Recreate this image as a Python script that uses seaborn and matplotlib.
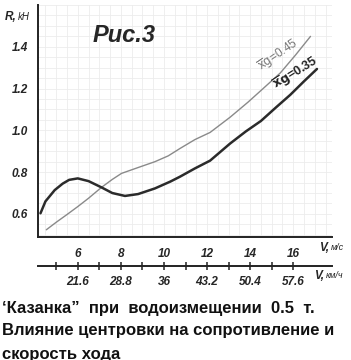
import numpy as np
import pandas as pd
import matplotlib
matplotlib.use("Agg")
import matplotlib.pyplot as plt
import seaborn as sns

# speed, m/s and resistance, kN
v_045 = [4.54, 5.0, 5.5, 6.0, 6.5, 7.1, 7.6, 8.03, 8.8, 9.58, 10.2, 10.74,
         11.44, 12.14, 13.07, 13.9, 14.6, 15.4, 16.1, 16.8]
r_045 = [0.524, 0.56, 0.597, 0.635, 0.675, 0.727, 0.765, 0.794, 0.822, 0.85,
         0.878, 0.913, 0.956, 0.99, 1.063, 1.135, 1.20, 1.275, 1.36, 1.45]

v_035 = [4.27, 4.5, 4.93, 5.3, 5.6, 6.0, 6.5, 7.1, 7.6, 8.19, 8.8, 9.58, 10.3,
         10.74, 11.44, 12.14, 13.07, 13.8, 14.5, 15.2, 15.86, 16.5, 17.1]
r_035 = [0.603, 0.66, 0.714, 0.745, 0.763, 0.770, 0.757, 0.727, 0.700, 0.686,
         0.695, 0.722, 0.755, 0.778, 0.818, 0.855, 0.937, 0.995, 1.045, 1.11,
         1.17, 1.235, 1.294]

y_ticks = [0.6, 0.8, 1.0, 1.2, 1.4]
y_minor = [0.7, 0.9, 1.1, 1.3, 1.5]
x_ticks = [6, 8, 10, 12, 14, 16]
x_minor = [5, 7, 9, 11, 13, 15]
kmh_ticks = [21.6, 28.8, 36, 43.2, 50.4, 57.6]
kmh_labels = ["21.6", "28.8", "36", "43.2", "50.4", "57.6"]
kmh_minor = [18.0, 25.2, 32.4, 39.6, 46.8, 54.0]

caption = ["\u2018Казанка\u201d  при  водоизмещении  0.5  т.",
           "Влияние центровки на сопротивление и",
           "скорость хода"]

df = pd.concat([
    pd.DataFrame({"v": v_045, "R": r_045, "xg": "0.45"}),
    pd.DataFrame({"v": v_035, "R": r_035, "xg": "0.35"}),
])

sns.set_style("white")
plt.rcParams["font.family"] = ["Liberation Sans", "DejaVu Sans"]

fig = plt.figure(figsize=(3.51, 3.6), dpi=100)
ax = fig.add_axes([0.108, 0.342, 0.838, 0.644])

# graph-paper background
for xx in np.arange(4, 18.01, 0.5):
    ax.axvline(xx, color="#ececec", lw=0.6, zorder=0)
for yy in np.arange(0.5, 1.61, 0.05):
    ax.axhline(yy, color="#ececec", lw=0.6, zorder=0)

sns.lineplot(data=df[df.xg == "0.45"], x="v", y="R", color="#8a8a8a", lw=1.0,
             estimator=None, sort=False, ax=ax, legend=False)
sns.lineplot(data=df[df.xg == "0.35"], x="v", y="R", color="#2b2b2b", lw=1.8,
             estimator=None, sort=False, ax=ax, legend=False)

ax.set_xlim(4.15, 17.8)
ax.set_ylim(0.49, 1.6)
ax.set_xlabel("")
ax.set_ylabel("")
for s in ["top", "right"]:
    ax.spines[s].set_visible(False)
for s in ["left", "bottom"]:
    ax.spines[s].set_linewidth(1.4)
    ax.spines[s].set_color("#222222")

tick_font = dict(fontsize=8.5, fontweight="bold", fontstyle="italic")
ax.set_yticks(y_ticks)
ax.set_yticklabels([f"{t:.1f}" for t in y_ticks], **tick_font)
ax.set_yticks(y_minor, minor=True)
ax.set_xticks(x_ticks)
ax.set_xticklabels([str(t) for t in x_ticks], **tick_font)
ax.set_xticks(x_minor, minor=True)
ax.tick_params(which="both", direction="inout", length=6, width=1.1,
               color="#222222", pad=5)
ax.tick_params(axis="y", which="major", pad=4)

sec = ax.secondary_xaxis(-0.125, functions=(lambda v: v * 3.6, lambda k: k / 3.6))
sec.set_xticks(kmh_ticks)
sec.set_xticklabels(kmh_labels, **tick_font)
sec.set_xticks(kmh_minor, minor=True)
sec.spines["bottom"].set_linewidth(1.4)
sec.spines["bottom"].set_color("#222222")
sec.tick_params(which="both", direction="inout", length=6, width=1.1,
                color="#222222", pad=4)

# curve labels
ax.text(15.3, 1.362, r"$\overline{\mathrm{x}}\mathrm{g}$=0.45", rotation=34,
        ha="center", va="center", fontsize=8.5, color="#777777")
ax.text(16.14, 1.271, r"$\overline{\mathbf{x}}\mathbf{g}$=0.35", rotation=32,
        ha="center", va="center", fontsize=9, fontweight="bold", color="#222222")

# title and axis names
fig.text(124 / 351, 1 - 36 / 360, "Рис.3", ha="center", va="center",
         fontsize=17, fontweight="bold", fontstyle="italic")
fig.text(5 / 351, 1 - 17 / 360, "R,", ha="left", va="center",
         fontsize=8.5, fontweight="bold", fontstyle="italic")
fig.text(18 / 351, 1 - 17 / 360, "kH", ha="left", va="center",
         fontsize=7, fontstyle="italic")
fig.text(319 / 351, 1 - 248 / 360, "V,", ha="left", va="center",
         fontsize=8.5, fontweight="bold", fontstyle="italic")
fig.text(331 / 351, 1 - 248 / 360, "м/с", ha="left", va="center",
         fontsize=6.5, fontstyle="italic")
fig.text(314 / 351, 1 - 276 / 360, "V,", ha="left", va="center",
         fontsize=8.5, fontweight="bold", fontstyle="italic")
fig.text(326 / 351, 1 - 276 / 360, "км/ч", ha="left", va="center",
         fontsize=6.5, fontstyle="italic")

# caption
for i, line in enumerate(caption):
    fig.text(2 / 351, 1 - (308 + 23 * i) / 360, line, ha="left", va="center",
             fontsize=12, fontweight="bold", color="#111111")

fig.savefig("out.png", dpi=100)
